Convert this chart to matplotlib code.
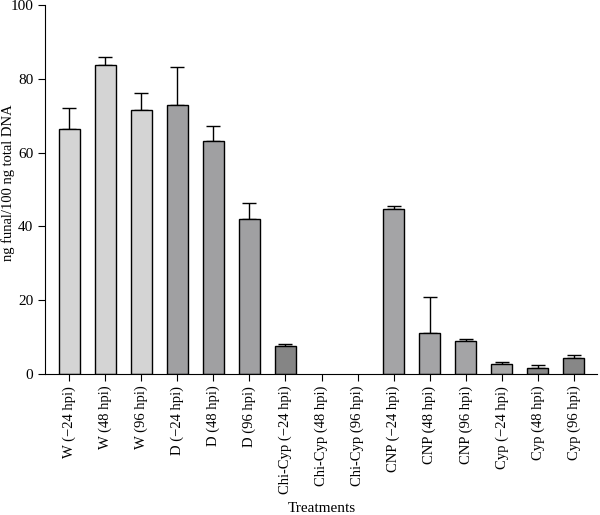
import numpy as np
import matplotlib.pyplot as plt

plt.rcParams['font.family'] = ['Liberation Serif', 'DejaVu Serif']

labels = ['W (\u221224 hpi)', 'W (48 hpi)', 'W (96 hpi)',
          'D (\u221224 hpi)', 'D (48 hpi)', 'D (96 hpi)',
          'Chi-Cyp (\u221224 hpi)', 'Chi-Cyp (48 hpi)', 'Chi-Cyp (96 hpi)',
          'CNP (\u221224 hpi)', 'CNP (48 hpi)', 'CNP (96 hpi)',
          'Cyp (\u221224 hpi)', 'Cyp (48 hpi)', 'Cyp (96 hpi)']
means = [66.4, 83.9, 71.7, 72.9, 63.1, 42.0, 7.5, 0, 0, 44.6, 11.0, 9.0, 2.6, 1.7, 4.3]
errors = [5.7, 2.1, 4.6, 10.2, 4.0, 4.3, 0.7, 0, 0, 1.0, 9.9, 0.4, 0.6, 0.6, 0.7]
colors = ['#d4d4d4', '#d4d4d4', '#d4d4d4',
          '#a0a0a2', '#a0a0a2', '#a0a0a2',
          '#858585', '#858585', '#858585',
          '#a4a4a6', '#a4a4a6', '#a4a4a6',
          '#a8a8a8', '#878787', '#878787']

fig = plt.figure(figsize=(6, 5.15), dpi=100)
ax = fig.add_axes([0.075, 0.274, 0.92, 0.716])

x = np.arange(len(labels))
m = np.array(means)
e = np.array(errors)
has = m > 0
# empty groups (no detection) get no bar outline
lw = [1 if v else 0 for v in has]
ax.bar(x, m, width=0.58, color=colors, edgecolor='black', linewidth=lw, zorder=2)
ax.errorbar(x[has], m[has], yerr=[np.zeros(has.sum()), e[has]], fmt='none',
            ecolor='black', elinewidth=1, capsize=5, capthick=1, zorder=1)

ax.set_xlim(-0.67, 14.64)
ax.set_ylim(0, 100)
ax.set_yticks([0, 20, 40, 60, 80, 100])
ax.set_xticks(x)
ax.set_xticklabels(labels, rotation=90, fontsize=10.5)
ax.tick_params(axis='y', labelsize=11, length=5)
ax.tick_params(axis='x', length=5)
ax.spines['top'].set_visible(False)
ax.spines['right'].set_visible(False)
ax.set_ylabel('ng funal/100 ng total DNA', fontsize=10.5)
ax.yaxis.set_label_coords(-0.055, 0.52)
fig.text(0.536, 0.005, 'Treatments', ha='center', va='baseline', fontsize=11)

plt.savefig('out.png')
